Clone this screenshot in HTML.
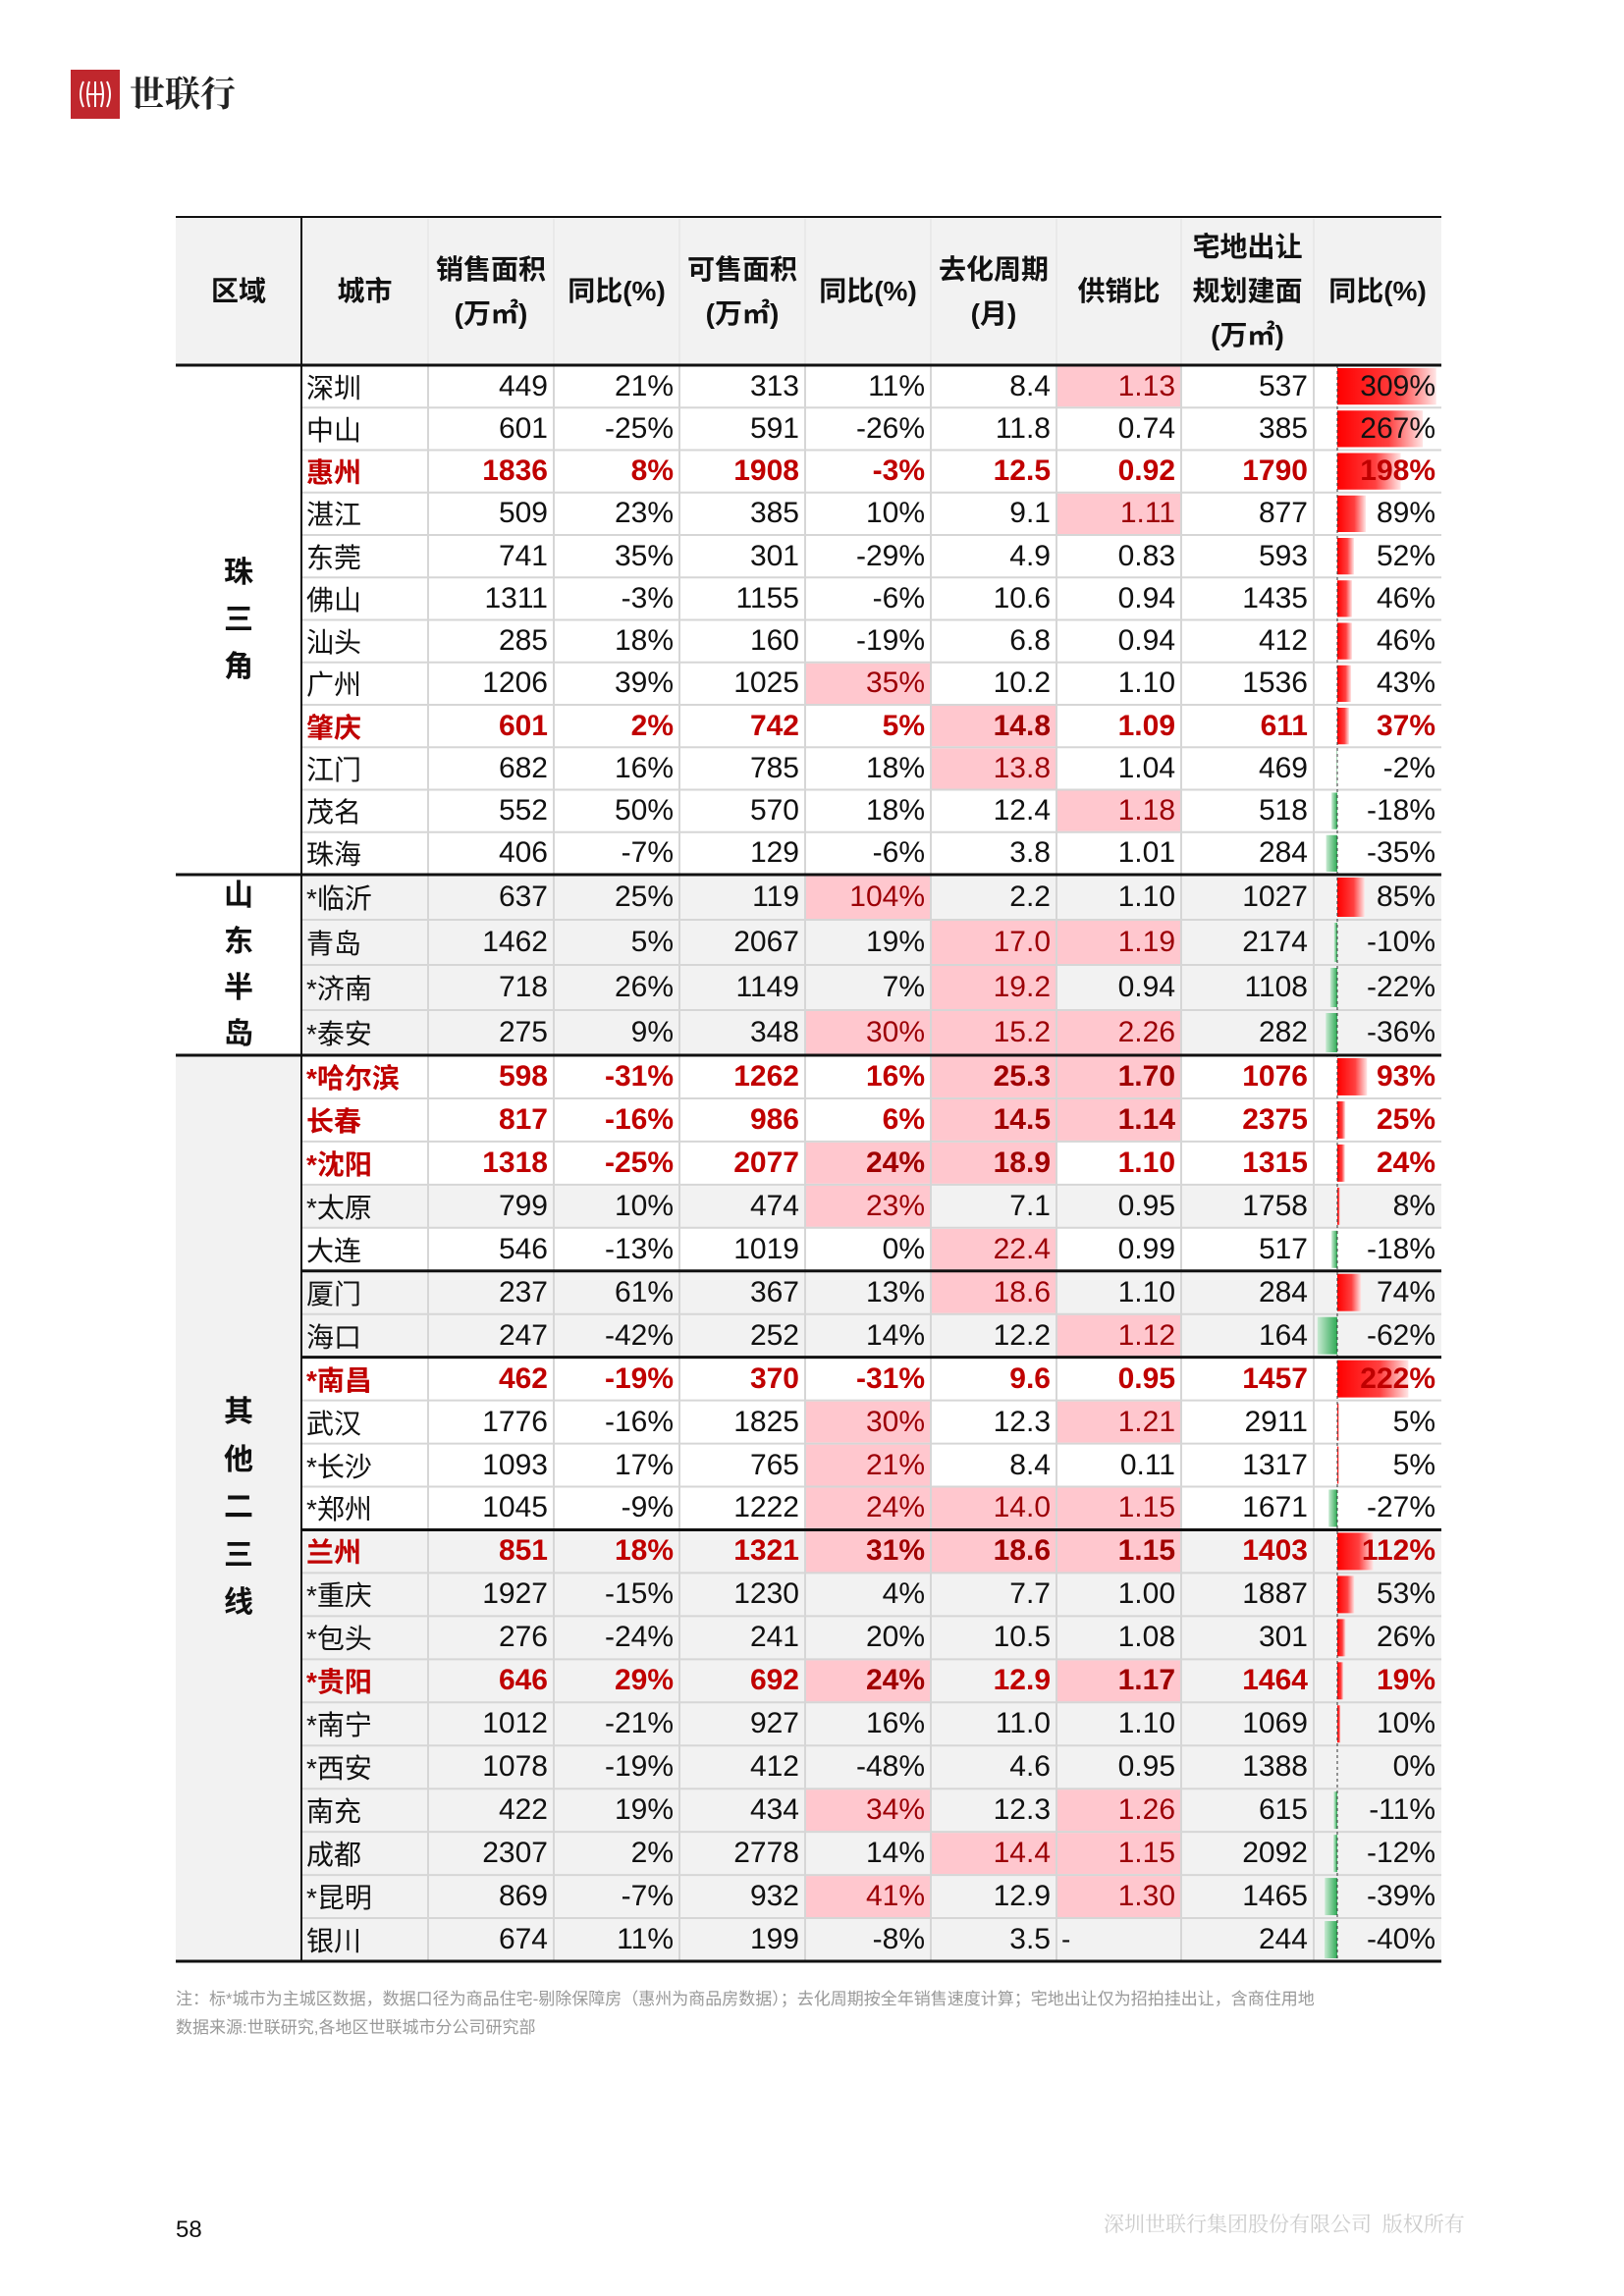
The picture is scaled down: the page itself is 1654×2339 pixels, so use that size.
<!DOCTYPE html>
<html><head><meta charset="utf-8">
<style>
html,body{margin:0;padding:0;background:#fff;}
#page{position:relative;width:1654px;height:2339px;overflow:hidden;background:#fff;font-family:"Liberation Sans","Noto Sans CJK SC",sans-serif;}
.abs{position:absolute;}
.cell{position:absolute;box-sizing:border-box;display:flex;align-items:center;font-size:30px;color:#111;white-space:nowrap;}
.num{justify-content:flex-end;padding-right:6px;}
.city{justify-content:flex-start;padding-left:5px;font-size:28px;}
.hd{position:absolute;box-sizing:border-box;display:flex;flex-direction:column;align-items:center;justify-content:center;font-weight:bold;font-size:28px;line-height:45px;color:#111;text-align:center;}
.reg{position:absolute;font-weight:bold;font-size:30px;color:#111;text-align:center;width:60px;}
</style></head>
<body>
<div id="page">
  <div class="abs" style="left:72px;top:71px;width:50px;height:50px;background:#c0272d;">
    <svg width="50" height="50" viewBox="0 0 50 50"><g fill="none" stroke="#fff" stroke-width="2"><path d="M13 12 Q7 25 13 38"/><path d="M37 12 Q43 25 37 38"/><path d="M19 12 Q15 25 19 38"/><path d="M31 12 Q35 25 31 38"/><line x1="25" y1="12" x2="25" y2="38"/><line x1="17" y1="25" x2="33" y2="25"/></g></svg>
  </div>
  <div class="abs" style="left:132px;top:70px;font-size:36px;line-height:48px;color:#222;font-weight:bold;font-family:'Noto Serif CJK SC','Noto Sans CJK SC',serif;">世联行</div>

  <svg id="tbl" class="abs" style="left:0;top:0" width="1654" height="2100"></svg>
  <div id="cells"></div>

  <div class="abs" style="left:179px;top:2022px;font-size:17px;color:#999;line-height:29px;">注：标*城市为主城区数据，数据口径为商品住宅-剔除保障房（惠州为商品房数据）；去化周期按全年销售速度计算；宅地出让仅为招拍挂出让，含商住用地<br>数据来源:世联研究,各地区世联城市分公司研究部</div>
  <div class="abs" style="left:179px;top:2258px;font-size:24px;color:#111;">58</div>
  <div class="abs" style="left:1124px;top:2250px;font-size:21px;color:#ccc;font-family:'Noto Serif CJK SC',serif;">深圳世联行集团股份有限公司&nbsp;&nbsp;版权所有</div>
</div>
<script>
const cities=["深圳","中山","惠州","湛江","东莞","佛山","汕头","广州","肇庆","江门","茂名","珠海","*临沂","青岛","*济南","*泰安","*哈尔滨","长春","*沈阳","*太原","大连","厦门","海口","*南昌","武汉","*长沙","*郑州","兰州","*重庆","*包头","*贵阳","*南宁","*西安","南充","成都","*昆明","银川"];
const sale=[449,601,1836,509,741,1311,285,1206,601,682,552,406,637,1462,718,275,598,817,1318,799,546,237,247,462,1776,1093,1045,851,1927,276,646,1012,1078,422,2307,869,674];
const saleYoy=[21,-25,8,23,35,-3,18,39,2,16,50,-7,25,5,26,9,-31,-16,-25,10,-13,61,-42,-19,-16,17,-9,18,-15,-24,29,-21,-19,19,2,-7,11];
const avail=[313,591,1908,385,301,1155,160,1025,742,785,570,129,119,2067,1149,348,1262,986,2077,474,1019,367,252,370,1825,765,1222,1321,1230,241,692,927,412,434,2778,932,199];
const availYoy=[11,-26,-3,10,-29,-6,-19,35,5,18,18,-6,104,19,7,30,16,6,24,23,0,13,14,-31,30,21,24,31,4,20,24,16,-48,34,14,41,-8];
const cycle=["8.4","11.8","12.5","9.1","4.9","10.6","6.8","10.2","14.8","13.8","12.4","3.8","2.2","17.0","19.2","15.2","25.3","14.5","18.9","7.1","22.4","18.6","12.2","9.6","12.3","8.4","14.0","18.6","7.7","10.5","12.9","11.0","4.6","12.3","14.4","12.9","3.5"];
const ratio=["1.13","0.74","0.92","1.11","0.83","0.94","0.94","1.10","1.09","1.04","1.18","1.01","1.10","1.19","0.94","2.26","1.70","1.14","1.10","0.95","0.99","1.10","1.12","0.95","1.21","0.11","1.15","1.15","1.00","1.08","1.17","1.10","0.95","1.26","1.15","1.30","-"];
const land=[537,385,1790,877,593,1435,412,1536,611,469,518,284,1027,2174,1108,282,1076,2375,1315,1758,517,284,164,1457,2911,1317,1671,1403,1887,301,1464,1069,1388,615,2092,1465,244];
const landYoy=[309,267,198,89,52,46,46,43,37,-2,-18,-35,85,-10,-22,-36,93,25,24,8,-18,74,-62,222,5,5,-27,112,53,26,19,10,0,-11,-12,-39,-40];
const boldRows=["惠州","肇庆","*哈尔滨","长春","*沈阳","*南昌","兰州","*贵阳"];
const hiAvailYoy=["广州","*临沂","*泰安","*沈阳","*太原","武汉","*长沙","*郑州","兰州","*贵阳","南充","*昆明"];
const hiCycle=["肇庆","江门","青岛","*济南","*泰安","*哈尔滨","长春","*沈阳","大连","厦门","*郑州","兰州","成都"];
const hiRatio=["深圳","湛江","茂名","青岛","*泰安","*哈尔滨","长春","海口","武汉","*郑州","兰州","*贵阳","南充","成都","*昆明"];
const grayRows=["*临沂","青岛","*济南","*泰安","*太原","厦门","海口","兰州","*重庆","*包头","*贵阳","*南宁","*西安","南充","成都","*昆明","银川"];
const regions=["珠三角","山东半岛","其他二三线"];
const regionCounts=[12,4,21];

const X=[179,307,436,564,692,820,948,1076,1203,1338,1468];
const secTop=[372,891,1075], secBot=[891,1075,1998];
const axisX=1362, barScale=0.326;
const svg=document.getElementById('tbl');
const cellsDiv=document.getElementById('cells');
const NS='http://www.w3.org/2000/svg';
function rect(x,y,w,h,fill){const r=document.createElementNS(NS,'rect');r.setAttribute('x',x);r.setAttribute('y',y);r.setAttribute('width',w);r.setAttribute('height',h);r.setAttribute('fill',fill);svg.appendChild(r);return r;}
function line(x1,y1,x2,y2,c,w,dash){const l=document.createElementNS(NS,'line');l.setAttribute('x1',x1);l.setAttribute('y1',y1);l.setAttribute('x2',x2);l.setAttribute('y2',y2);l.setAttribute('stroke',c);l.setAttribute('stroke-width',w);if(dash)l.setAttribute('stroke-dasharray',dash);svg.appendChild(l);return l;}
svg.innerHTML='<defs><linearGradient id="gr" x1="0" x2="1"><stop offset="0" stop-color="#ff0000"/><stop offset="0.6" stop-color="#ff4040"/><stop offset="1" stop-color="#ffe5e5"/></linearGradient><linearGradient id="gg" x1="1" x2="0"><stop offset="0" stop-color="#2eaa55"/><stop offset="1" stop-color="#c8ead2"/></linearGradient></defs>';

const hdr=rect(X[0],221,X[10]-X[0],151,'#f2f2f2');


const heads=[["区域"],["城市"],["销售面积","(万㎡)"],["同比(%)"],["可售面积","(万㎡)"],["同比(%)"],["去化周期","(月)"],["供销比"],["宅地出让","规划建面","(万㎡)"],["同比(%)"]];
const headNames=['region','city','sales-area','sales-yoy','available-area','available-yoy','destock-cycle','supply-sales-ratio','land-supply','land-yoy'];
heads.forEach((h,i)=>{const d=document.createElement('div');d.className='hd';


d.style.left=X[i]+'px';d.style.top='221px';d.style.width=(X[i+1]-X[i])+'px';d.style.height='151px';d.innerHTML=h.join('<br>');cellsDiv.appendChild(d);});
for(let i=2;i<10;i++) line(X[i],223,X[i],372,'#e0e0e0',1);

let idx=0;
regionCounts.forEach((cnt,s)=>{
  const rh=(secBot[s]-secTop[s])/cnt;
  if(s==2) rect(X[0],secTop[s],X[1]-X[0],secBot[s]-secTop[s],'#f2f2f2');
  for(let r=0;r<cnt;r++,idx++){
    const y=secTop[s]+r*rh, name=cities[idx];
    const gray=grayRows.includes(name), bold=boldRows.includes(name);
    const bg=rect(X[1],y,X[10]-X[1],rh,gray?'#f2f2f2':'#ffffff');
    
    
    const hiSets={5:hiAvailYoy,6:hiCycle,7:hiRatio};
    for(const c of [5,6,7]) if(hiSets[c].includes(name)) rect(X[c]+1,y+1,X[c+1]-X[c]-2,rh-2,'#ffc7ce');
    if(r>0) line(X[1],y,X[10],y,'#d6d6d6',2);
    const v=landYoy[idx], w=Math.abs(v)*barScale;
    if(v>0){const b=rect(axisX,y+3,w,rh-6,'url(#gr)');}
    else if(v<0){const b=rect(axisX-w,y+3,w,rh-6,'url(#gg)');}
    const vals=[name,sale[idx],saleYoy[idx]+'%',avail[idx],availYoy[idx]+'%',cycle[idx],ratio[idx],land[idx],landYoy[idx]+'%'];
    vals.forEach((t,c)=>{const d=document.createElement('div');
      d.className='cell '+(c==0?'city':'num');
      
      
      if(c==6&&t=='-'){d.className='cell city';}
      d.style.left=X[c+1]+'px';d.style.top=y+'px';d.style.width=(X[c+2]-X[c+1])+'px';d.style.height=rh+'px';
      let col='#111';
      if(bold){col='#c00000';d.style.fontWeight='bold';}
      if((c==4&&hiAvailYoy.includes(name))||(c==5&&hiCycle.includes(name))||(c==6&&hiRatio.includes(name))) col=bold?'#a00000':'#9c0006';
      d.style.color=col;d.textContent=t;cellsDiv.appendChild(d);});
  }
  const rl=document.createElement('div');rl.className='reg';
  
  
  const chars=regions[s].split('');const lh=s==0?48:(s==1?47:48.5);
  rl.style.lineHeight=lh+'px';rl.style.left=(X[0]+(X[1]-X[0])/2-30)+'px';
  rl.style.top=((secTop[s]+secBot[s])/2-chars.length*lh/2)+'px';
  rl.innerHTML=chars.join('<br>');cellsDiv.appendChild(rl);
});
for(let i=2;i<10;i++) line(X[i],372,X[i],1998,'#d6d6d6',2);
line(axisX,372,axisX,1998,'#333',1,'3,3');
line(X[0],221,X[10],221,'#111',2);
line(X[0],372,X[10],372,'#111',3);
line(X[0],891,X[10],891,'#111',3);
line(X[0],1075,X[10],1075,'#111',3);
line(X[0],1998,X[10],1998,'#111',3);
line(X[1],221,X[1],1998,'#111',2);
const rh3=(1998-1075)/21;
[5,7,11].forEach(k=>line(X[1],1075+k*rh3,X[10],1075+k*rh3,'#111',3));
</script>
</body></html>
